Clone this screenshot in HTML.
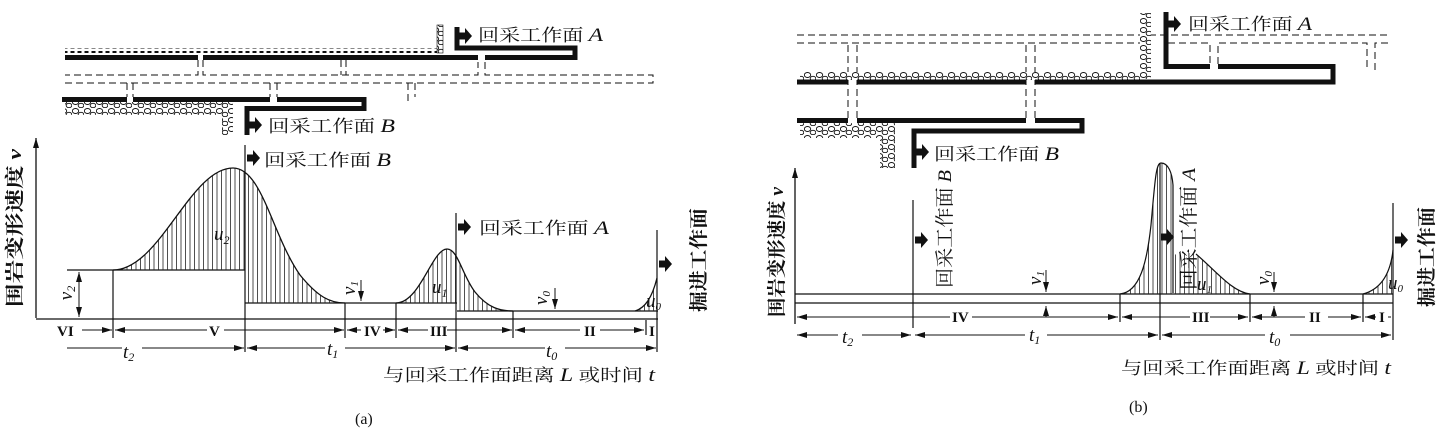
<!DOCTYPE html>
<html><head><meta charset="utf-8"><style>
html,body{margin:0;padding:0;background:#fff;}
svg{display:block;}
.c{font-family:"Liberation Serif","Noto Serif CJK SC","Noto Sans CJK SC",serif;font-size:17px;fill:#111;}
.i{font-family:"Liberation Serif",serif;font-style:italic;font-size:19px;fill:#111;}
.r{font-family:"Liberation Serif",serif;font-size:15px;fill:#111;font-weight:bold;}
</style></head><body>
<svg width="1439" height="432" viewBox="0 0 1439 432" xmlns="http://www.w3.org/2000/svg">
<defs>
<pattern id="h" width="4.5" height="10" patternUnits="userSpaceOnUse"><line x1="1" y1="0" x2="1" y2="10" stroke="#222" stroke-width="0.8"/></pattern>
<pattern id="rb" width="12" height="9" patternUnits="userSpaceOnUse"><rect width="12" height="9" fill="#fff"/><ellipse cx="3.5" cy="3" rx="3.2" ry="2.5" fill="#fff" stroke="#111" stroke-width="0.9"/><ellipse cx="9" cy="6.5" rx="2.8" ry="2.2" fill="#fff" stroke="#111" stroke-width="0.9"/></pattern>
<pattern id="rs" width="7" height="5" patternUnits="userSpaceOnUse"><rect width="7" height="5" fill="#fff"/><rect x="0.5" y="1" width="4" height="2.5" fill="#111"/></pattern>
<marker id="ae" markerWidth="10" markerHeight="6" refX="10" refY="3" orient="auto" markerUnits="userSpaceOnUse"><path d="M0,0 L10,3 L0,6 Z" fill="#111"/></marker>
<marker id="as" markerWidth="10" markerHeight="6" refX="0" refY="3" orient="auto" markerUnits="userSpaceOnUse"><path d="M10,0 L0,3 L10,6 Z" fill="#111"/></marker>
<g id="ar"><path d="M0,-3.5 H6 V-8 L13,0 L6,8 V3.5 H0 Z" fill="#111"/></g>
</defs>
<g stroke="#111" fill="none">
<rect x="65" y="48" width="372" height="5" fill="url(#rs)" stroke="none"/>
<rect x="437" y="25" width="6" height="28" fill="url(#rb)" stroke-width="0.6"/>
<path d="M65,57.5 H198 M203,57.5 H478 M485,57.5 H575 V48 H457 V27" stroke-width="5"/>
<g stroke-dasharray="7,4" stroke-width="1">
<path d="M198,60 V75 H65 M203,60 V75 H478 V62 M485,62 V75 H653 V83 H65"/>
<path d="M127,83 V97 M133,83 V97 M270,83 V97 M277,83 V97 M408,83 V101 M415,83 V97"/>
<path d="M341,60 V75 M346,60 V75"/>
</g>
<path d="M62,99.5 H127 M133,99.5 H270 M277,99.5 H364 V108.5 H247 V135" stroke-width="5"/>
<rect x="65" y="102" width="166" height="13" fill="url(#rb)" stroke="none"/>
<rect x="222" y="102" width="11" height="33" fill="url(#rb)" stroke="none"/>
<path d="M36,318 V138" stroke-width="1.3" marker-end="url(#ae)"/>
<path d="M36,319 H658" stroke-width="1.3"/>
<path d="M245,303 H457 M457,311 H658 M67,270 H245" stroke-width="1.3"/>
<path d="M113,270 C160,270 190,168 233,168 C262,168 272,235 300,275 C318,297 330,303 345,303 L245,303 L245,270 Z" fill="url(#h)" stroke="none"/>
<path d="M113,270 C160,270 190,168 233,168 C262,168 272,235 300,275 C318,297 330,303 345,303" stroke-width="1.3"/>
<path d="M396,303 C420,303 432,249 447,249 C458,249 462,275 475,292 C488,308 500,311 513,311 L456,311 L456,303 Z" fill="url(#h)" stroke="none"/>
<path d="M396,303 C420,303 432,249 447,249 C458,249 462,275 475,292 C488,308 500,311 513,311" stroke-width="1.3"/>
<path d="M635,311 C645,308 652,298 657,278 L657,311 Z" fill="url(#h)" stroke="none"/>
<path d="M635,311 C645,308 652,298 657,278" stroke-width="1.3"/>
<path d="M113,270 V338 M245,145 V352 M345,303 V338 M396,303 V338 M456,213 V352 M513,311 V338 M657,230 V352 M646,320 V335" stroke-width="1.2"/>
<path d="M79,272 V317" stroke-width="1" marker-start="url(#as)" marker-end="url(#ae)"/>
<path d="M361,280 V301" stroke-width="1" marker-end="url(#ae)"/>
<path d="M555,288 V309" stroke-width="1" marker-end="url(#ae)"/>
<g stroke-width="1">
<path d="M82,330 H112" marker-end="url(#ae)"/>
<path d="M207,330 H115" marker-end="url(#ae)"/>
<path d="M224,330 H344" marker-end="url(#ae)"/>
<path d="M361,330 H347" marker-end="url(#ae)"/>
<path d="M383,330 H395" marker-end="url(#ae)"/>
<path d="M428,330 H398" marker-end="url(#ae)"/>
<path d="M447,330 H512" marker-end="url(#ae)"/>
<path d="M580,330 H515" marker-end="url(#ae)"/>
<path d="M600,330 H644" marker-end="url(#ae)"/>
<path d="M67,348 H122 M142,348 H244" marker-end="url(#ae)"/>
<path d="M325,348 H247" marker-end="url(#ae)"/>
<path d="M345,348 H455" marker-end="url(#ae)"/>
<path d="M545,348 H458" marker-end="url(#ae)"/>
<path d="M565,348 H656" marker-end="url(#ae)"/>
</g>
<g stroke-dasharray="7,4" stroke-width="1">
<path d="M797,35 H1390 M797,43 H1140 M1168,43 H1210 V64 M1218,64 V43 H1367 V70 M1375,70 V43 H1390"/>
<path d="M848,45 V118 M857,45 V118 M1026,45 V118 M1035,45 V118"/>
</g>
<rect x="800" y="72" width="345" height="8" fill="url(#rb)" stroke="none"/>
<rect x="1140" y="13" width="11" height="66" fill="url(#rb)" stroke="none"/>
<path d="M797,82 H848 M857,82 H1026 M1035,82 H1333 V66.5 H1218 M1210,66.5 H1166 V12" stroke-width="5"/>
<path d="M797,120.5 H848 M857,120.5 H1026 M1035,120.5 H1082 V131 H914 V168" stroke-width="5"/>
<rect x="800" y="123" width="95" height="15" fill="url(#rb)" stroke="none"/>
<rect x="880" y="123" width="15" height="45" fill="url(#rb)" stroke="none"/>
<path d="M795,324 V168" stroke-width="1.3" marker-end="url(#ae)"/>
<path d="M795,294 H1393 M795,303 H1393" stroke-width="1.3"/>
<path d="M1120,294 C1140,292 1147,262 1151,225 C1155,180 1156,163 1161,163 C1168,163 1172,172 1173,185 L1173,255 C1185,252 1192,252 1198,256 C1215,270 1232,292 1250,294 Z" fill="url(#h)" stroke="none"/>
<path d="M1120,294 C1140,292 1147,262 1151,225 C1155,180 1156,163 1161,163 C1168,163 1172,172 1173,185 L1173,293 M1196,254 C1215,270 1232,292 1250,294" stroke-width="1.2"/>
<path d="M1363,294 C1378,290 1390,278 1393,250 L1393,294 Z" fill="url(#h)" stroke="none"/>
<path d="M1363,294 C1378,290 1390,278 1393,250" stroke-width="1.2"/>
<path d="M913,200 V328 M1160,163 V340 M1393,203 V340 M1120,294 V322 M1250,294 V322 M1363,294 V322" stroke-width="1.2"/>
<path d="M1046,270 V292" stroke-width="1" marker-end="url(#ae)"/>
<path d="M1274,272 V292" stroke-width="1" marker-end="url(#ae)"/>
<g stroke-width="1">
<path d="M950,317 H797" marker-end="url(#ae)"/>
<path d="M972,317 H1118" marker-end="url(#ae)"/>
<path d="M1046,317 V306" marker-end="url(#ae)"/>
<path d="M1190,317 H1122" marker-end="url(#ae)"/>
<path d="M1210,317 H1248" marker-end="url(#ae)"/>
<path d="M1274,317 H1252" marker-end="url(#ae)"/>
<path d="M1274,317 V306" marker-end="url(#ae)"/>
<path d="M1305,317 H1252" marker-end="url(#ae)"/>
<path d="M1328,317 H1361" marker-end="url(#ae)"/>
<path d="M1376,317 H1365" marker-end="url(#ae)"/>
<path d="M1388,317 H1391" />
<path d="M838,335 H797" marker-end="url(#ae)"/>
<path d="M862,335 H911" marker-end="url(#ae)"/>
<path d="M1025,335 H915" marker-end="url(#ae)"/>
<path d="M1047,335 H1158" marker-end="url(#ae)"/>
<path d="M1265,335 H1162" marker-end="url(#ae)"/>
<path d="M1290,335 H1391" marker-end="url(#ae)"/>
</g>
</g>
<use href="#ar" x="459" y="36"/>
<use href="#ar" x="249" y="125"/>
<use href="#ar" x="247" y="158"/>
<use href="#ar" x="458" y="227"/>
<use href="#ar" x="659" y="264"/>
<use href="#ar" x="1168" y="24"/>
<use href="#ar" x="916" y="152"/>
<use href="#ar" x="915" y="240"/>
<use href="#ar" x="1161" y="237"/>
<use href="#ar" x="1395" y="240"/>
<text class="c" x="478" y="41" textLength="125" lengthAdjust="spacingAndGlyphs">回采工作面 <tspan class="i">A</tspan></text>
<text class="c" x="268" y="132" textLength="127" lengthAdjust="spacingAndGlyphs">回采工作面 <tspan class="i">B</tspan></text>
<text class="c" x="264" y="166" textLength="127" lengthAdjust="spacingAndGlyphs">回采工作面 <tspan class="i">B</tspan></text>
<text class="c" x="479" y="234" textLength="130" lengthAdjust="spacingAndGlyphs">回采工作面 <tspan class="i">A</tspan></text>
<text class="c" x="383" y="381" textLength="272" lengthAdjust="spacingAndGlyphs">与回采工作面距离 <tspan class="i">L</tspan> 或时间 <tspan class="i">t</tspan></text>
<text class="c" x="355" y="424" style="font-size:16px">(a)</text>
<text class="c" transform="translate(14,228) rotate(-90)" x="0" y="7" text-anchor="middle" textLength="158" lengthAdjust="spacingAndGlyphs" style="font-size:19px;font-weight:bold">围岩变形速度 <tspan class="i">v</tspan></text>
<text class="c" transform="translate(698,260) rotate(-90)" x="0" y="7" text-anchor="middle" textLength="104" lengthAdjust="spacingAndGlyphs" style="font-size:19px;font-weight:bold">掘进工作面</text>
<text class="i" x="214" y="240">u<tspan font-size="12" dy="4">2</tspan></text>
<text class="i" x="432" y="293">u<tspan font-size="12" dy="4">1</tspan></text>
<text class="i" x="646" y="307" font-size="17">u<tspan font-size="11" dy="3">0</tspan></text>
<text class="i" transform="translate(67,293) rotate(-90)" text-anchor="middle" y="5">v<tspan font-size="12" dy="3">2</tspan></text>
<text class="i" transform="translate(350,288) rotate(-90)" text-anchor="middle" y="5" font-size="17">v<tspan font-size="11" dy="3">1</tspan></text>
<text class="i" transform="translate(542,298) rotate(-90)" text-anchor="middle" y="5" font-size="17">v<tspan font-size="11" dy="3">0</tspan></text>
<text class="r" x="57" y="336">VI</text>
<text class="r" x="209" y="336">V</text>
<text class="r" x="364" y="336" font-size="12">IV</text>
<text class="r" x="430" y="336">III</text>
<text class="r" x="584" y="336">II</text>
<text class="r" x="649" y="336">I</text>
<text class="i" x="123" y="358">t<tspan font-size="12" dy="3">2</tspan></text>
<text class="i" x="327" y="355">t<tspan font-size="12" dy="3">1</tspan></text>
<text class="i" x="546" y="357">t<tspan font-size="12" dy="3">0</tspan></text>
<text class="c" x="1188" y="30" textLength="124" lengthAdjust="spacingAndGlyphs">回采工作面 <tspan class="i">A</tspan></text>
<text class="c" x="934" y="160" textLength="125" lengthAdjust="spacingAndGlyphs">回采工作面 <tspan class="i">B</tspan></text>
<text class="c" x="1121" y="374" textLength="270" lengthAdjust="spacingAndGlyphs">与回采工作面距离 <tspan class="i">L</tspan> 或时间 <tspan class="i">t</tspan></text>
<text class="c" x="1129" y="412" style="font-size:16px">(b)</text>
<text class="c" transform="translate(776,252) rotate(-90)" x="0" y="7" text-anchor="middle" textLength="130" lengthAdjust="spacingAndGlyphs" style="font-size:19px;font-weight:bold">围岩变形速度 <tspan class="i">v</tspan></text>
<text class="c" transform="translate(944,229) rotate(-90)" x="0" y="7" text-anchor="middle" textLength="118" lengthAdjust="spacingAndGlyphs" style="font-size:19px">回采工作面 <tspan class="i">B</tspan></text>
<text class="c" transform="translate(1188,229) rotate(-90)" x="0" y="7" text-anchor="middle" textLength="122" lengthAdjust="spacingAndGlyphs" style="font-size:19px">回采工作面 <tspan class="i">A</tspan></text>
<text class="c" transform="translate(1426,257) rotate(-90)" x="0" y="7" text-anchor="middle" textLength="100" lengthAdjust="spacingAndGlyphs" style="font-size:19px;font-weight:bold">掘进工作面</text>
<text class="i" x="1197" y="290" font-size="17">u<tspan font-size="11" dy="3">1</tspan></text>
<text class="i" x="1388" y="289" font-size="17">u<tspan font-size="11" dy="3">0</tspan></text>
<text class="i" transform="translate(1036,278) rotate(-90)" text-anchor="middle" y="5" font-size="17">v<tspan font-size="11" dy="3">1</tspan></text>
<text class="i" transform="translate(1264,278) rotate(-90)" text-anchor="middle" y="5" font-size="17">v<tspan font-size="11" dy="3">0</tspan></text>
<text class="r" x="952" y="322" font-size="13">IV</text>
<text class="r" x="1192" y="322">III</text>
<text class="r" x="1309" y="322">II</text>
<text class="r" x="1379" y="322">I</text>
<text class="i" x="842" y="343">t<tspan font-size="12" dy="3">2</tspan></text>
<text class="i" x="1029" y="341">t<tspan font-size="12" dy="3">1</tspan></text>
<text class="i" x="1269" y="343">t<tspan font-size="12" dy="3">0</tspan></text>
</svg>
</body></html>
